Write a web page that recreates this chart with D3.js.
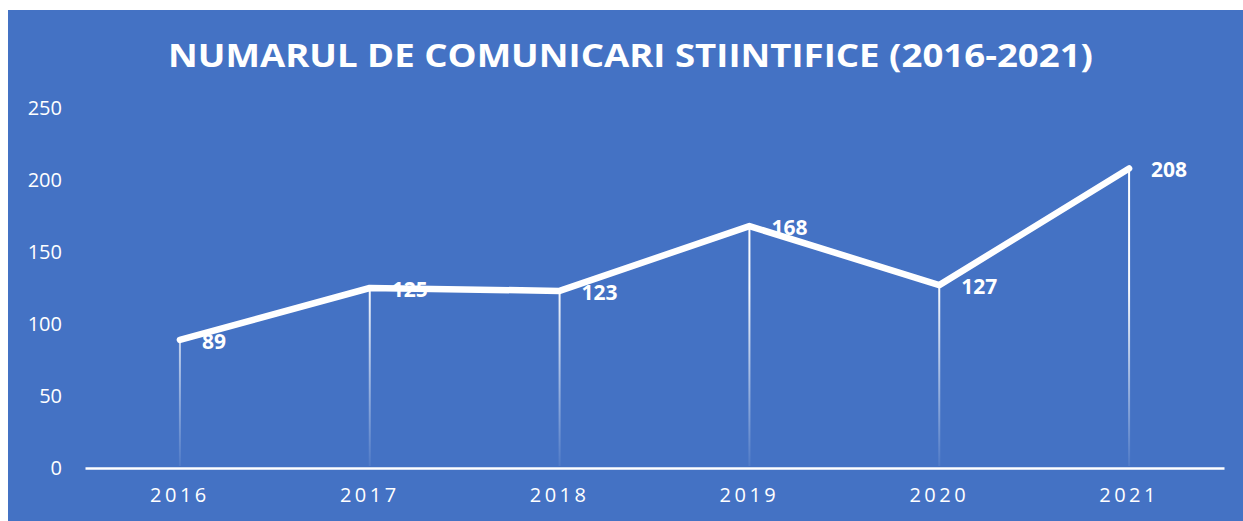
<!DOCTYPE html>
<html>
<head>
<meta charset="utf-8">
<script src="https://cdn.jsdelivr.net/npm/d3@7"></script>
<style>
  body { margin: 0; background: #fff; }
  svg { display: block; font-family: "Open Sans", "Noto Sans", sans-serif; }
</style>
</head>
<body>
<svg id="chart"></svg>
<script>
// ---- data ----
const years = ['2016', '2017', '2018', '2019', '2020', '2021'];
const counts = [89, 125, 123, 168, 127, 208];
const yTicks = [0, 50, 100, 150, 200, 250];
const title = 'NUMARUL DE COMUNICARI STIINTIFICE (2016-2021)';

const width = 1243;
const height = 521;
const margin = { left: 85, right: 19, top: 108, bottom: 53 };

const svg = d3.select('#chart').attr('width', width).attr('height', height);

// blue panel
svg.append('rect')
  .attr('x', 8).attr('y', 10)
  .attr('width', width - 8).attr('height', height - 10)
  .attr('fill', '#4472C4');

// gradient for the drop lines (white on top, fading to the bottom)
const grad = svg.append('defs').append('linearGradient')
  .attr('id', 'dropFade')
  .attr('gradientUnits', 'userSpaceOnUse')
  .attr('x1', 0).attr('x2', 0);
grad.append('stop').attr('offset', '0%').attr('stop-color', '#fff').attr('stop-opacity', 1);
grad.append('stop').attr('offset', '40%').attr('stop-color', '#fff').attr('stop-opacity', 0.95);
grad.append('stop').attr('offset', '100%').attr('stop-color', '#fff').attr('stop-opacity', 0.05);

const x = d3.scaleBand()
  .domain(years)
  .range([margin.left, width - margin.right]);

const y = d3.scaleLinear()
  .domain([0, 250])
  .range([height - margin.bottom, margin.top]);

// title - squeezed to mimic the narrow original face
svg.append('text')
  .attr('x', 168).attr('y', 67)
  .attr('fill', '#fff')
  .attr('font-size', 33)
  .attr('font-weight', 700)
  .attr('textLength', 925)
  .attr('lengthAdjust', 'spacingAndGlyphs')
  .text(title);

// y axis labels (no line)
const yAxis = svg.append('g')
  .attr('transform', `translate(${margin.left},0)`)
  .call(d3.axisLeft(y).tickValues(yTicks).tickSize(0).tickPadding(23));
yAxis.select('.domain').remove();
yAxis.selectAll('text')
  .attr('fill', '#fff')
  .attr('font-size', 20)
  .attr('font-family', '"Open Sans", sans-serif');

// x axis
const xAxis = svg.append('g')
  .attr('transform', `translate(0,${y(0)})`)
  .call(d3.axisBottom(x).tickSize(0).tickPadding(20));
xAxis.select('.domain').attr('stroke', '#fff').attr('stroke-width', 2.5);
xAxis.selectAll('text')
  .attr('fill', '#fff')
  .attr('font-size', 20)
  .attr('letter-spacing', 3.5)
  .attr('font-family', '"Open Sans", sans-serif');

const cx = (d, i) => x(years[i]) + x.bandwidth() / 2;

// drop lines
grad.attr('y1', y(d3.max(counts))).attr('y2', y(0));
svg.append('g')
  .selectAll('line')
  .data(counts)
  .join('line')
  .attr('x1', cx).attr('x2', cx)
  .attr('y1', d => y(d))
  .attr('y2', y(0) - 2)
  .attr('stroke', 'url(#dropFade)')
  .attr('stroke-width', 2);

// main line
const line = d3.line()
  .x(cx)
  .y(d => y(d));

svg.append('path')
  .datum(counts)
  .attr('d', line)
  .attr('fill', 'none')
  .attr('stroke', '#fff')
  .attr('stroke-width', 6.5)
  .attr('stroke-linejoin', 'round')
  .attr('stroke-linecap', 'round');

// data labels
svg.append('g')
  .selectAll('text')
  .data(counts)
  .join('text')
  .attr('x', (d, i) => cx(d, i) + 22)
  .attr('y', d => y(d) + 9)
  .attr('fill', '#fff')
  .attr('font-size', 21)
  .attr('font-weight', 700)
  .text(d => d);
</script>
</body>
</html>
